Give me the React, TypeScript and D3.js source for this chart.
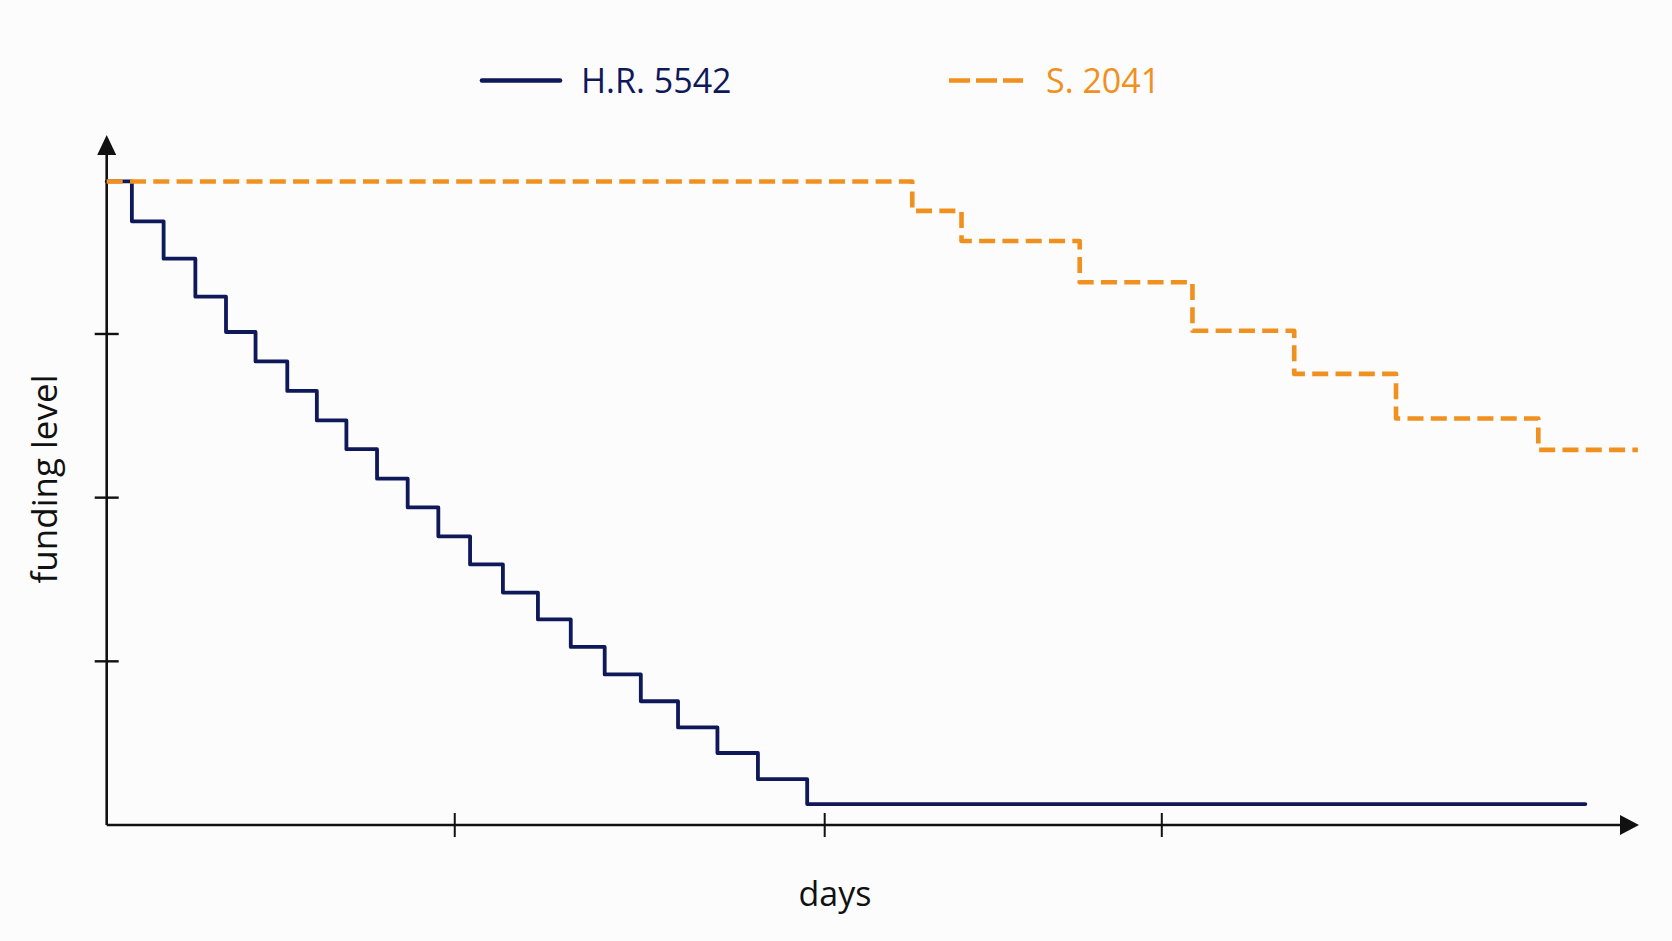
import { useEffect, useRef } from "react";
import * as d3 from "d3";

// H.R. 5542: day each level starts, funding level (last point closes the line)
const hrDays = [
  0, 2.3, 5.2, 8.1, 10.9, 13.6, 16.5, 19.2, 21.9, 24.7, 27.5, 30.3, 33.2, 36.2,
  39.4, 42.4, 45.5, 48.8, 52.2, 55.8, 59.5, 64.0, 135.1,
];
const hrLevels = [
  98.3, 92.2, 86.5, 80.7, 75.3, 70.8, 66.3, 61.8, 57.4, 52.9, 48.5, 44.1, 39.8,
  35.5, 31.4, 27.2, 23.0, 18.9, 14.9, 11.0, 7.0, 3.2, 3.2,
];

// S. 2041
const sDays = [0, 73.6, 78.1, 88.9, 99.2, 108.5, 117.8, 130.8, 139.9];
const sLevels = [98.3, 93.8, 89.2, 82.9, 75.5, 68.9, 62.1, 57.3, 57.3];

const xTicks = [31.8, 65.6, 96.4];
const yTicks = [25, 50, 75];

const seriesNames = ["H.R. 5542", "S. 2041"];

const W = 1672;
const H = 941;
const NAVY = "#0f1859";
const ORANGE = "#f0901f";
const FONT = "'Open Sans', 'Noto Sans', sans-serif";

export default function App() {
  const svgRef = useRef<SVGSVGElement>(null);

  useEffect(() => {
    if (!svgRef.current) return;
    const svg = d3.select(svgRef.current);
    svg.selectAll("*").remove();

    const x = d3.scaleLinear().domain([0, 140]).range([106.7, 1639]);
    const y = d3.scaleLinear().domain([0, 100]).range([825, 170.3]);

    const x0 = x(0);
    const y0 = y(0);

    svg.append("rect").attr("width", W).attr("height", H).attr("fill", "#fcfcfc");

    // Axes with arrow heads
    const axis = svg.append("g").attr("stroke", "#111").attr("fill", "none");
    axis
      .append("line")
      .attr("x1", x0)
      .attr("y1", y0)
      .attr("x2", x0)
      .attr("y2", 150)
      .attr("stroke-width", 2.6);
    axis
      .append("line")
      .attr("x1", x0)
      .attr("y1", y0)
      .attr("x2", 1622)
      .attr("y2", y0)
      .attr("stroke-width", 2.6);

    svg
      .append("path")
      .attr("d", `M${x0},135 L${x0 + 9.5},155 L${x0 - 9.5},155 Z`)
      .attr("fill", "#111");
    svg
      .append("path")
      .attr("d", `M${x(140)},${y0} L${x(140) - 19},${y0 - 10} L${x(140) - 19},${y0 + 10} Z`)
      .attr("fill", "#111");

    // Ticks crossing the axes
    axis
      .selectAll(".ytick")
      .data(yTicks)
      .join("line")
      .attr("class", "ytick")
      .attr("x1", x0 - 12)
      .attr("x2", x0 + 12)
      .attr("y1", (d) => y(d))
      .attr("y2", (d) => y(d))
      .attr("stroke-width", 2.4);
    axis
      .selectAll(".xtick")
      .data(xTicks)
      .join("line")
      .attr("class", "xtick")
      .attr("x1", (d) => x(d))
      .attr("x2", (d) => x(d))
      .attr("y1", y0 - 12)
      .attr("y2", y0 + 12)
      .attr("stroke-width", 2);

    // Step lines
    const line = d3
      .line<[number, number]>()
      .x((d) => x(d[0]))
      .y((d) => y(d[1]))
      .curve(d3.curveStepAfter);

    const hr = hrDays.map((d, i) => [d, hrLevels[i]] as [number, number]);
    const s = sDays.map((d, i) => [d, sLevels[i]] as [number, number]);

    svg
      .append("path")
      .attr("d", line(hr))
      .attr("fill", "none")
      .attr("stroke", NAVY)
      .attr("stroke-width", 3.8)
      .attr("stroke-linejoin", "round")
      .attr("stroke-linecap", "round");

    svg
      .append("path")
      .attr("d", line(s))
      .attr("fill", "none")
      .attr("stroke", ORANGE)
      .attr("stroke-width", 4.6)
      .attr("stroke-dasharray", "16,7.3")
      .attr("stroke-linejoin", "round");

    // Legend
    const legend = svg.append("g");
    legend
      .append("line")
      .attr("x1", 482)
      .attr("x2", 560)
      .attr("y1", 80.5)
      .attr("y2", 80.5)
      .attr("stroke", NAVY)
      .attr("stroke-width", 4.6)
      .attr("stroke-linecap", "round");
    legend
      .append("text")
      .attr("x", 581)
      .attr("y", 93)
      .attr("fill", NAVY)
      .attr("font-size", 34)
      .attr("font-family", FONT)
      .text(seriesNames[0]);
    legend
      .append("line")
      .attr("x1", 949)
      .attr("x2", 1023)
      .attr("y1", 80.5)
      .attr("y2", 80.5)
      .attr("stroke", ORANGE)
      .attr("stroke-width", 4.6)
      .attr("stroke-dasharray", "21,6");
    legend
      .append("text")
      .attr("x", 1046)
      .attr("y", 93)
      .attr("fill", ORANGE)
      .attr("font-size", 34)
      .attr("font-family", FONT)
      .text(seriesNames[1]);

    // Axis titles
    svg
      .append("text")
      .attr("x", 835)
      .attr("y", 906)
      .attr("text-anchor", "middle")
      .attr("fill", "#111")
      .attr("font-size", 34)
      .attr("font-family", FONT)
      .text("days");
    svg
      .append("text")
      .attr("transform", `translate(57,479) rotate(-90)`)
      .attr("text-anchor", "middle")
      .attr("fill", "#111")
      .attr("font-size", 35)
      .attr("font-family", FONT)
      .text("funding level");
  }, []);

  return (
    <svg
      ref={svgRef}
      width={W}
      height={H}
      style={{ position: "absolute", left: 0, top: 0, display: "block" }}
    />
  );
}
